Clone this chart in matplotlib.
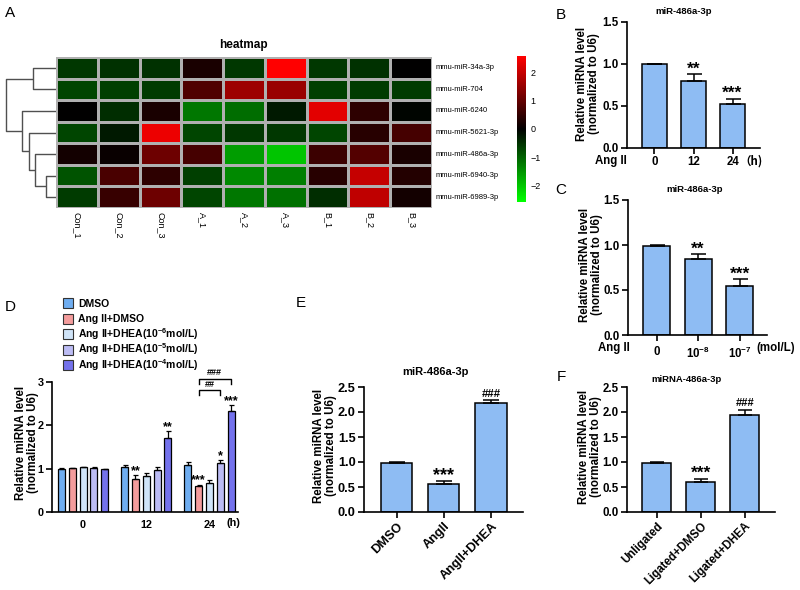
import numpy as np
import matplotlib
matplotlib.use('Agg')
import matplotlib.pyplot as plt
from matplotlib.colors import LinearSegmentedColormap
from matplotlib.patches import Rectangle
from matplotlib.ticker import FormatStrFormatter

plt.rcParams['font.family'] = ['Liberation Sans', 'DejaVu Sans']
plt.rcParams['font.weight'] = 'bold'
plt.rcParams['mathtext.fontset'] = 'custom'
plt.rcParams['mathtext.rm'] = 'Liberation Sans:bold'
plt.rcParams['mathtext.bf'] = 'Liberation Sans:bold'
plt.rcParams['mathtext.it'] = 'Liberation Sans:bold'
plt.rcParams['axes.linewidth'] = 1.2

# ---------------- data ----------------
heat_rows = ['mmu-miR-34a-3p', 'mmu-miR-704', 'mmu-miR-6240', 'mmu-miR-5621-3p',
             'mmu-miR-486a-3p', 'mmu-miR-6940-3p', 'mmu-miR-6989-3p']
heat_cols = ['Con_1', 'Con_2', 'Con_3', 'A_1', 'A_2', 'A_3', 'B_1', 'B_2', 'B_3']
heat_vals = np.array([
    [-0.55, -0.50, -0.50, 0.25, -0.55, 2.60, -0.55, -0.50, 0.00],
    [-0.70, -0.65, -0.60, 0.80, 1.60, 1.55, -0.65, -0.60, -0.60],
    [0.00, -0.45, 0.25, -1.20, -1.10, -0.25, 2.30, 0.45, -0.05],
    [-0.70, -0.25, 2.40, -0.70, -0.55, -0.55, -0.70, 0.40, 0.70],
    [0.20, 0.10, 1.10, 0.70, -1.60, -2.00, 0.60, 0.85, 0.25],
    [-0.85, 0.75, 0.45, -0.65, -1.40, -1.30, 0.40, 2.00, 0.35],
    [-0.60, 0.55, 1.10, -0.70, -1.20, -1.15, -0.45, 1.95, 0.20],
])
# dendrogram merges: (child a, child b, height); leaves are rows 0-6, new nodes 7..
dendro_merges = [(5, 6, 10), (4, 7, 21), (0, 1, 23), (3, 8, 27), (2, 10, 34), (9, 11, 50)]

b_labels = ['0', '12', '24']
b_means = [1.00, 0.80, 0.52]
b_err = [0.005, 0.08, 0.065]
b_sig = ['', '**', '***']

c_labels = ['0', r'10$^{-8}$', r'10$^{-7}$']
c_means = [0.99, 0.845, 0.54]
c_err = [0.005, 0.055, 0.08]
c_sig = ['', '**', '***']

d_groups = ['0', '12', '24']
d_series = ['DMSO', 'Ang II+DMSO', r'Ang II+DHEA(10$^{-6}$mol/L)',
            r'Ang II+DHEA(10$^{-5}$mol/L)', r'Ang II+DHEA(10$^{-4}$mol/L)']
d_means = [[1.00, 1.04, 1.09],
           [1.01, 0.77, 0.59],
           [1.03, 0.83, 0.67],
           [1.02, 0.96, 1.12],
           [0.99, 1.71, 2.34]]
d_err = [[0.01, 0.05, 0.06],
         [0.01, 0.08, 0.04],
         [0.01, 0.08, 0.08],
         [0.01, 0.08, 0.07],
         [0.01, 0.15, 0.13]]
d_sig = [['', '', ''],
         ['', '**', '***'],
         ['', '', ''],
         ['', '', '*'],
         ['', '**', '***']]
# brackets in the 24 h group: (series from, series to, height, label)
d_brackets = [(1, 3, 2.81, '##'), (1, 4, 3.08, '###')]
d_colors = ['#6fadf0', '#f49c9c', '#d0e4f8', '#bcbcf4', '#7472ec']

e_labels = ['DMSO', 'AngII', 'AngII+DHEA']
e_means = [0.99, 0.57, 2.18]
e_err = [0.01, 0.06, 0.06]
e_sig = ['', '***', '###']

f_labels = ['Unligated', 'Ligated+DMSO', 'Ligated+DHEA']
f_means = [0.99, 0.60, 1.95]
f_err = [0.01, 0.07, 0.10]
f_sig = ['', '***', '###']

BAR = '#8ebcf3'
W, H = 800, 590


def box(x0, y0, x1, y1):
    return [x0 / W, 1 - y1 / H, (x1 - x0) / W, (y1 - y0) / H]


def ftext(x, y, s, **kw):
    fig.text(x / W, 1 - y / H, s, ha=kw.pop('ha', 'center'), va=kw.pop('va', 'center'), **kw)


def add_sig(ax, x, y, s, fs):
    off = 2.0 - 0.12 * fs if '*' in s else 2.2
    ax.annotate(s, (x, y), xytext=(0, off), textcoords='offset points', ha='center',
                va='baseline', fontsize=fs, fontweight='bold', annotation_clip=False)


def style(ax, fs):
    ax.spines['top'].set_visible(False)
    ax.spines['right'].set_visible(False)
    ax.tick_params(width=1.2, length=4, labelsize=fs, pad=2)


def bar_panel(ax, labels, means, errs, sig, ymax, fs, star_fs, hash_fs, cap, width, margin):
    x = np.arange(len(means))
    ax.bar(x, means, width=width, color=BAR, edgecolor='black', linewidth=1.1, zorder=2)
    ax.errorbar(x, means, yerr=[np.zeros(len(errs)), errs], fmt='none', ecolor='black',
                elinewidth=1.1, capsize=cap, capthick=1.1, zorder=3)
    for xi, m, e, s in zip(x, means, errs, sig):
        if s:
            add_sig(ax, xi, m + e, s, star_fs if '*' in s else hash_fs)
    ax.set_xlim(-margin[0], len(means) - 1 + margin[1])
    ax.set_ylim(0, ymax)
    ax.set_yticks(np.arange(0, ymax + 0.01, 0.5))
    ax.yaxis.set_major_formatter(FormatStrFormatter('%.1f'))
    ax.set_xticks(x)
    ax.set_xticklabels(labels)
    style(ax, fs)


fig = plt.figure(figsize=(8, 5.9), dpi=100)

# ---------------- A: heatmap ----------------
cmap = LinearSegmentedColormap.from_list('gbr', ['#00ff00', '#000000', '#ff0000'])
ax_h = fig.add_axes(box(56, 57, 432, 208))
mesh = ax_h.pcolormesh(heat_vals, cmap=cmap, vmin=-2.6, vmax=2.6,
                       edgecolors='#b0b0b0', linewidth=1.0)
ax_h.set_xlim(0, len(heat_cols))
ax_h.set_ylim(len(heat_rows), 0)
ax_h.axis('off')
for i, r in enumerate(heat_rows):
    ax_h.text(len(heat_cols) + 0.08, i + 0.5, r, ha='left', va='center',
              fontsize=5.5, fontweight='normal')
for j, c in enumerate(heat_cols):
    ax_h.text(j + 0.5, len(heat_rows) + 0.2, c, ha='center', va='top', rotation=270,
              fontsize=6.5, fontweight='normal')

ax_d0 = fig.add_axes(box(5, 57, 56, 208))
pos = {i: i + 0.5 for i in range(len(heat_rows))}
hgt = {i: 0 for i in range(len(heat_rows))}
for k, (a, b, h) in enumerate(dendro_merges):
    node = len(heat_rows) + k
    ax_d0.plot([hgt[a], h, h, hgt[b]], [pos[a], pos[a], pos[b], pos[b]],
               color='#505050', lw=1.0, solid_capstyle='butt')
    pos[node] = (pos[a] + pos[b]) / 2
    hgt[node] = h
ax_d0.set_xlim(51, 0)
ax_d0.set_ylim(len(heat_rows), 0)
ax_d0.axis('off')

ax_cb = fig.add_axes(box(517, 56, 526, 202))
cb = fig.colorbar(mesh, cax=ax_cb, ticks=[-2, -1, 0, 1, 2])
cb.outline.set_visible(False)
cb.ax.tick_params(length=0, labelsize=6.5, pad=3)
for t in cb.ax.get_yticklabels():
    t.set_fontweight('normal')

ftext(243, 45, 'heatmap', fontsize=8.5, fontweight='bold')

# ---------------- B ----------------
ax_b = fig.add_axes(box(627, 22, 760, 148))
bar_panel(ax_b, b_labels, b_means, b_err, b_sig, 1.5, 8.3, 12.5, 8, 5.4, 0.64, (0.705, 0.705))
ftext(611, 161, 'Ang II', fontsize=8.3)
ftext(751, 161, '（h)', fontsize=8.3, family=['Noto Sans CJK SC', 'DejaVu Sans'])
ftext(684, 12, 'miR-486a-3p', fontsize=6.8)
ftext(588, 84, 'Relative miRNA level\n(normalized to U6)', rotation=90, fontsize=8.3,
      linespacing=1.05)

# ---------------- C ----------------
ax_c = fig.add_axes(box(628, 200, 767, 335))
bar_panel(ax_c, c_labels, c_means, c_err, c_sig, 1.5, 8.3, 12.5, 8, 5.4, 0.65, (0.69, 0.66))
ax_c.tick_params(axis='x', pad=4)
ftext(614, 348, 'Ang II', fontsize=8.3)
ftext(776, 348, '(mol/L)', fontsize=8.3)
ftext(695, 190, 'miR-486a-3p', fontsize=6.8)
ftext(591, 265, 'Relative miRNA level\n(normalized to U6)', rotation=90, fontsize=8.3,
      linespacing=1.05)

# ---------------- D ----------------
ax_dd = fig.add_axes(box(52, 382, 238, 512))
gap = 5.83
centers = np.arange(len(d_groups)) * gap
for s in range(len(d_series)):
    xs = centers + (s - 2)
    ax_dd.bar(xs, d_means[s], width=0.65, color=d_colors[s], edgecolor='black',
              linewidth=0.9, zorder=2)
    ax_dd.errorbar(xs, d_means[s], yerr=[np.zeros(3), d_err[s]], fmt='none', ecolor='black',
                   elinewidth=0.9, capsize=1.8, capthick=0.9, zorder=3)
    for g in range(len(d_groups)):
        if d_sig[s][g]:
            add_sig(ax_dd, xs[g], d_means[s][g] + d_err[s][g], d_sig[s][g], 9)
for a, b, h, lab in d_brackets:
    xa = centers[2] + (a - 2)
    xb = centers[2] + (b - 2)
    ax_dd.plot([xa, xa, xb, xb], [h - 0.115, h, h, h - 0.115], color='black', lw=1.0,
               clip_on=False)
    ax_dd.text((xa + xb) / 2, h + 0.03, lab, ha='center', va='bottom', fontsize=6.5)
ax_dd.set_xlim(-2.87, 14.3)
ax_dd.set_ylim(0, 3)
ax_dd.set_yticks([0, 1, 2, 3])
ax_dd.set_xticks(centers)
ax_dd.set_xticklabels(d_groups)
style(ax_dd, 7.8)
ax_dd.tick_params(axis='x', length=0, pad=6)
ftext(233, 523, '(h)', fontsize=7.8)
ftext(27, 443, 'Relative miRNA level\n(normalized to U6)', rotation=90, fontsize=8.3,
      linespacing=1.05)
# legend for D, one row per series
for i, (lab, col) in enumerate(zip(d_series, d_colors)):
    yc = 303 + 15.5 * i
    fig.patches.append(Rectangle((63 / W, 1 - (yc + 5) / H), 10 / W, 10 / H,
                                 transform=fig.transFigure, facecolor=col,
                                 edgecolor='#333333', linewidth=0.8))
    ftext(78, yc + 3.8, lab, ha='left', va='baseline', fontsize=7.5)

# ---------------- E ----------------
ax_e = fig.add_axes(box(364, 387, 523, 512))
bar_panel(ax_e, e_labels, e_means, e_err, e_sig, 2.5, 9.2, 13, 8.2, 5.5, 0.66, (0.70, 0.68))
for t in ax_e.get_xticklabels():
    t.set_rotation(45)
    t.set_ha('right')
    t.set_va('top')
    t.set_rotation_mode('anchor')
    t.set_fontsize(9.2)
ftext(435, 372, 'miR-486a-3p', fontsize=8)
ftext(325, 446, 'Relative miRNA level\n(normalized to U6)', rotation=90, fontsize=8.3,
      linespacing=1.05)

# ---------------- F ----------------
ax_f = fig.add_axes(box(627, 387, 775, 512))
bar_panel(ax_f, f_labels, f_means, f_err, f_sig, 2.5, 8.3, 12.5, 8, 5.2, 0.66, (0.68, 0.69))
for t in ax_f.get_xticklabels():
    t.set_rotation(45)
    t.set_ha('right')
    t.set_va('top')
    t.set_rotation_mode('anchor')
ftext(686, 380, 'miRNA-486a-3p', fontsize=6.8)
ftext(590, 447, 'Relative miRNA level\n(normalized to U6)', rotation=90, fontsize=8.3,
      linespacing=1.05)

# panel letters
for lab, (x, y) in {'A': (10, 13), 'B': (561, 15), 'C': (561, 190), 'D': (10, 307),
                    'E': (301, 303), 'F': (561, 377)}.items():
    ftext(x, y, lab, fontsize=11, fontweight='normal')

fig.savefig('out.png', dpi=100)
